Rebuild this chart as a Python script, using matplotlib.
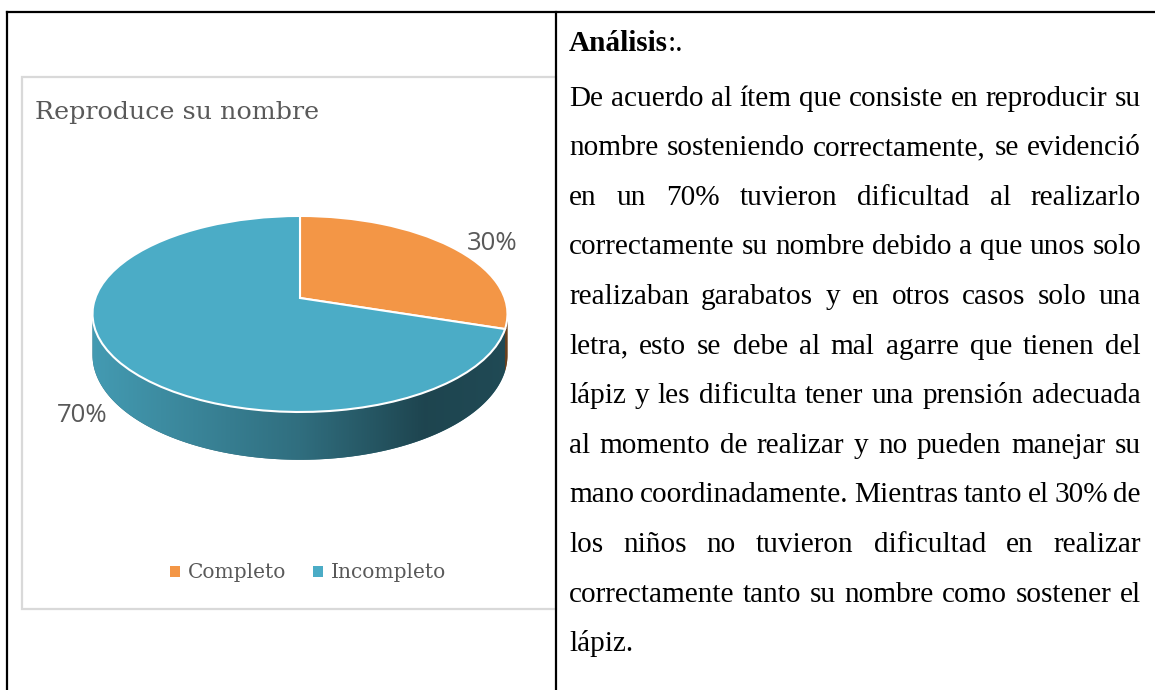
import numpy as np
import matplotlib
matplotlib.use("Agg")
import matplotlib.pyplot as plt
import matplotlib.transforms as mtransforms
from matplotlib.path import Path
from matplotlib.patches import PathPatch, Rectangle
from matplotlib.colors import LinearSegmentedColormap, to_rgb

# data
categories = ["Completo", "Incompleto"]
values = [30, 70]
colors = ["#F39646", "#4BACC6"]
title = "Reproduce su nombre"

heading = "Análisis"
body = [
    "De acuerdo al ítem que consiste en reproducir su",
    "nombre sosteniendo correctamente, se evidenció",
    "en un 70% tuvieron dificultad al realizarlo",
    "correctamente su nombre debido a que unos solo",
    "realizaban garabatos y en otros casos solo una",
    "letra, esto se debe al mal agarre que tienen del",
    "lápiz y les dificulta tener una prensión adecuada",
    "al momento de realizar y no pueden manejar su",
    "mano coordinadamente. Mientras tanto el 30% de",
    "los niños no tuvieron dificultad en realizar",
    "correctamente tanto su nombre como sostener el",
    "lápiz.",
]

# 3d pie geometry (pixels)
CX, CY = 300, 298
SX, SY = 204.7, 95.4
P = 0.163
DEPTH = 40


class Persp(mtransforms.Transform):
    # unit circle (u right, v back) -> pixel coords with a bit of perspective
    input_dims = output_dims = 2

    def transform_non_affine(self, values):
        xy = np.asarray(values, dtype=float).reshape(-1, 2)
        u, v = xy[:, 0], xy[:, 1]
        w = 1 + P * v
        return np.column_stack([CX + SX * u / w, CY - SY * v / w])


class SideT(mtransforms.Transform):
    # (angle deg, depth fraction) -> pixel coords
    input_dims = output_dims = 2

    def transform_non_affine(self, values):
        xy = np.asarray(values, dtype=float).reshape(-1, 2)
        th = np.radians(xy[:, 0])
        u, v = np.cos(th), np.sin(th)
        w = 1 + P * v
        return np.column_stack([CX + SX * u / w, CY + (xy[:, 1] * DEPTH - SY * v) / w])


fig = plt.figure(figsize=(11.55, 6.9), dpi=100)
ax = fig.add_axes([0, 0, 1, 1])

wedges, _ = ax.pie(values, colors=colors, startangle=90, counterclock=False,
                   frame=True, wedgeprops=dict(edgecolor="white", linewidth=1.5))
ax.set_aspect("auto")
for w in wedges:
    w.set_transform(Persp() + ax.transData)
    w.set_zorder(3)

# side wall of the front half
front = (180 + np.degrees(np.arcsin(P)), 360 - np.degrees(np.arcsin(P)))
for w, c in zip(wedges, colors):
    rgb = np.array(to_rgb(c))
    cmap = LinearSegmentedColormap.from_list(
        "side", [(0, rgb * 0.9), (0.5, rgb * 0.64), (0.8, rgb * 0.4), (1, rgb * 0.43)])
    for k in (-720, -360, 0, 360):
        lo = max(w.theta1, front[0] + k)
        hi = min(w.theta2, front[1] + k)
        if hi <= lo:
            continue
        rect = Path([(lo, 0), (hi, 0), (hi, 1), (lo, 1), (lo, 0)], closed=True).interpolated(120)
        side = PathPatch(rect, transform=SideT() + ax.transData,
                         facecolor=rgb * 0.6, edgecolor="none", zorder=2)
        ax.add_patch(side)
        grad = np.linspace(0, 1, 256).reshape(1, -1)
        im = ax.imshow(grad, cmap=cmap, aspect="auto", zorder=2.1,
                       extent=(CX - SX * 1.02, CX + SX * 1.02, CY + 175, CY - 10))
        im.set_clip_path(side)

ax.text(467, 243, f"{values[0]}%", ha="left", va="center", fontsize=18.5,
        family="Open Sans", color="#595959")
ax.text(108, 416, f"{values[1]}%", ha="right", va="center", fontsize=18.5,
        family="Open Sans", color="#595959")

# chart frame, title, legend
ax.add_patch(Rectangle((22, 77), 534, 532, facecolor="white", edgecolor="#D9D9D9",
                       linewidth=1.6, zorder=0.5))
ax.text(35, 113, title, ha="left", va="center", fontsize=18.3, family="DejaVu Serif",
        color="#595959")
handles = [Rectangle((0, 0), 1, 1, facecolor=w.get_facecolor(), edgecolor="none") for w in wedges]
ax.legend(handles, categories, loc="center", bbox_to_anchor=(308, 573),
          bbox_transform=ax.transData, ncol=2, frameon=False,
          prop={"family": "DejaVu Serif", "size": 14.5}, labelcolor="#595959",
          handlelength=0.5, handleheight=0.5, handletextpad=0.4, columnspacing=1.3)

# table lines
lk = dict(color="black", linewidth=1.6, zorder=6, solid_capstyle="projecting")
ax.plot([7, 1155], [12, 12], **lk)
ax.plot([7, 7], [12, 690], **lk)
ax.plot([556, 556], [12, 690], **lk)

ax.set_xlim(0, 1155)
ax.set_ylim(690, 0)
ax.axis("off")

# right cell text, justified
renderer = fig.canvas.get_renderer()
fam = "Liberation Serif"
X0, X1 = 569, 1141


def width(s, size, weight="normal"):
    t = ax.text(0, 0, s, fontsize=size, family=fam, weight=weight)
    wd = t.get_window_extent(renderer).width
    t.remove()
    return wd


size = 10 * 582 / width(body[8], 10)
space = width("a a", size) - width("aa", size)

hw = width(heading, size, "bold")
ax.text(X0, 51, heading, fontsize=size, family=fam, weight="bold", va="baseline")
ax.text(X0 + hw, 51, ":.", fontsize=size, family=fam, va="baseline")

for i, line in enumerate(body):
    y = 105.5 + 49.6 * i
    words = line.split()
    ws = [width(wd, size) for wd in words]
    if i == len(body) - 1 or len(words) == 1:
        gap = space
    else:
        gap = (X1 - X0 - sum(ws)) / (len(words) - 1)
    x = X0
    for wd, wdw in zip(words, ws):
        ax.text(x, y, wd, fontsize=size, family=fam, va="baseline", color="black")
        x += wdw + gap

fig.savefig("out.png", dpi=100)
